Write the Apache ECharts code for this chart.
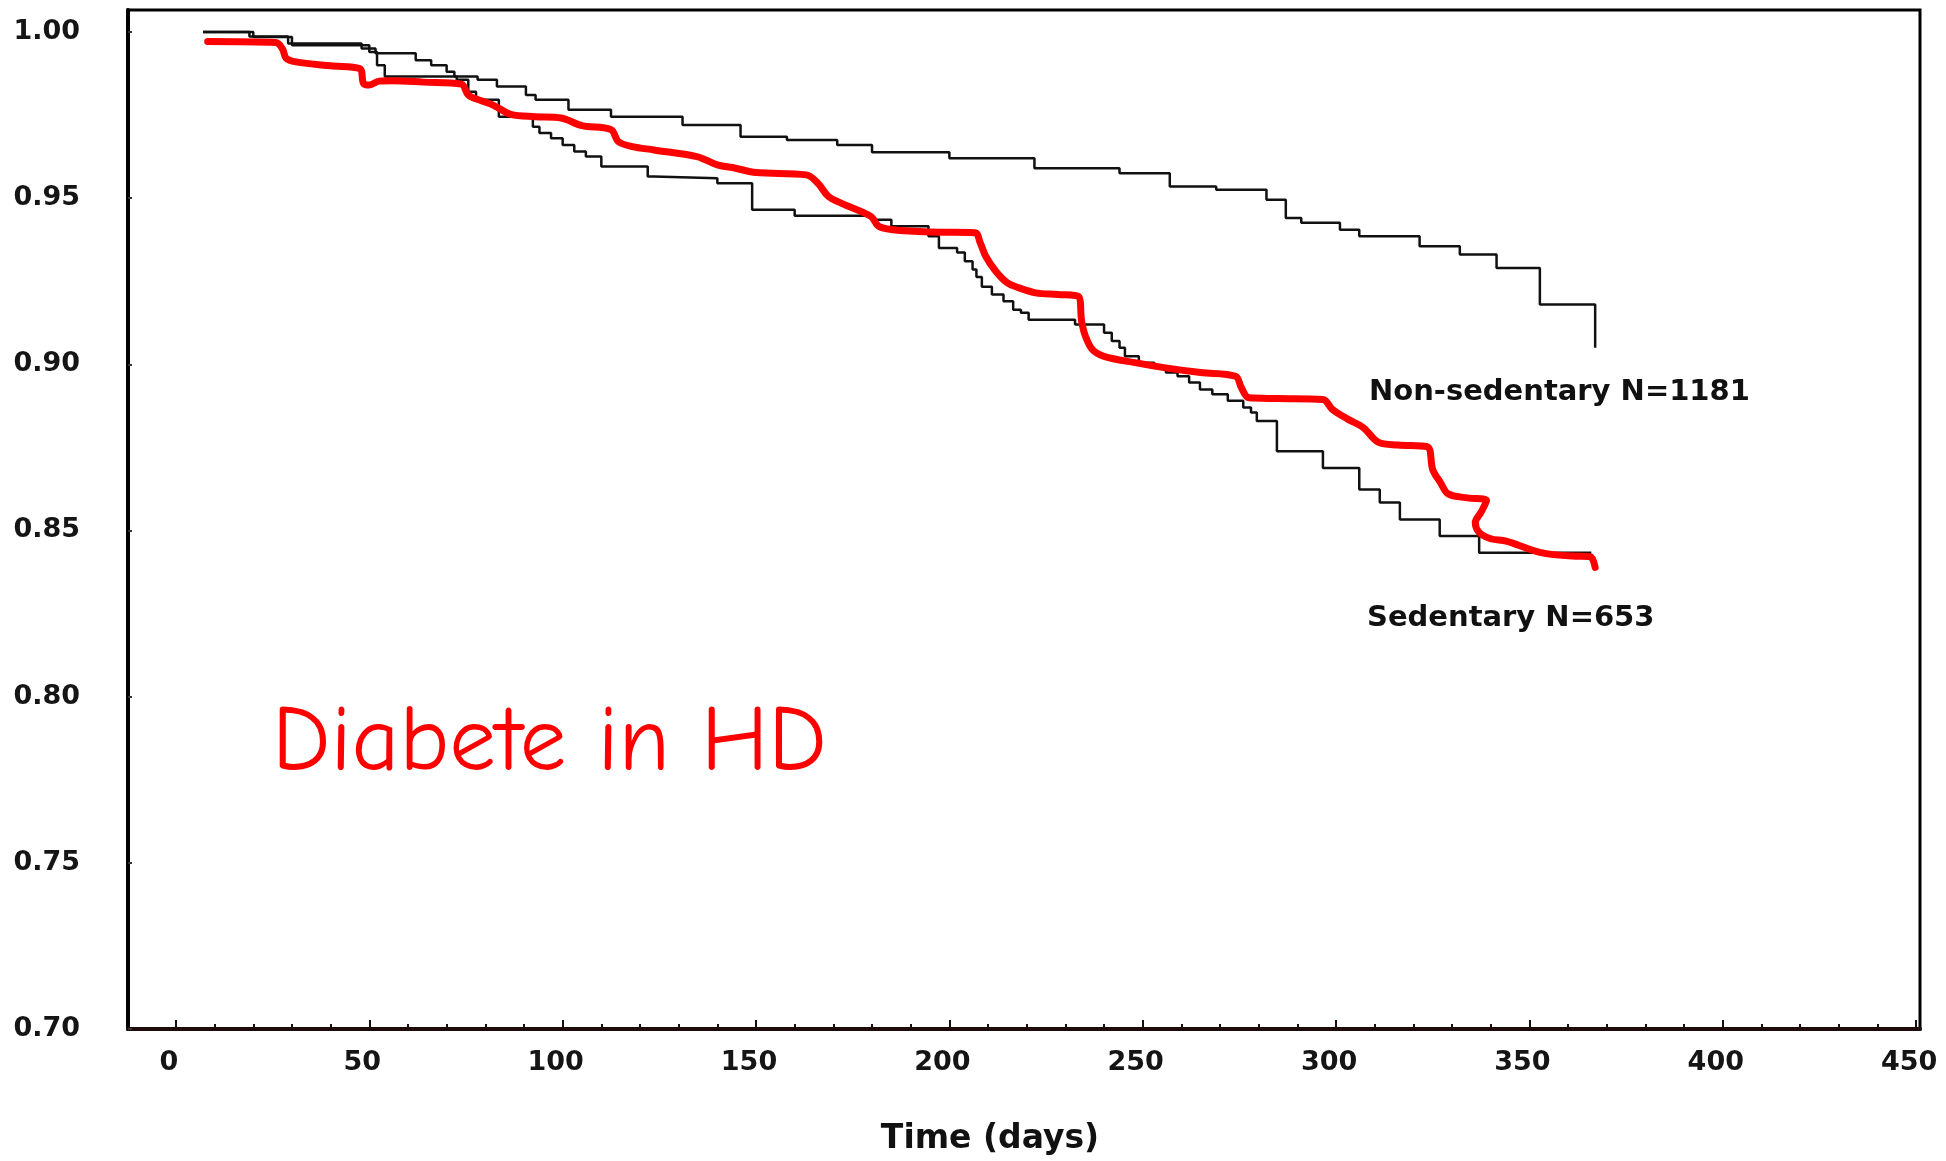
<!DOCTYPE html>
<html>
<head>
<meta charset="utf-8">
<script src="https://cdn.jsdelivr.net/npm/echarts@6/dist/echarts.min.js"></script>
<style>
html,body{margin:0;padding:0;background:#ffffff;}
#chart{width:1946px;height:1161px;}
</style>
</head>
<body>
<div id="chart"></div>
<script>
// ---- tick values ----
const xMajorTicks = [0, 50, 100, 150, 200, 250, 300, 350, 400, 450];
const xMinorTicks = [10, 20, 30, 40, 60, 70, 80, 90, 110, 120, 130, 140, 160, 170, 180, 190, 210, 220, 230, 240, 260, 270, 280, 290, 310, 320, 330, 340, 360, 370, 380, 390, 410, 420, 430, 440];
const yTicks = [0.70, 0.75, 0.80, 0.85, 0.90, 0.95, 1.00];

// ---- Non-sedentary N=1181 (Kaplan-Meier step curve) ----
const nonSedDays = [7, 19, 29, 48, 51.6, 62, 66, 70, 72, 78, 83, 90.5, 93, 101.5, 112.5, 131, 146, 158, 171, 180, 200, 222, 244, 257, 269, 282, 287, 291, 301, 306, 321.6, 332, 341.5, 352.7, 367];
const nonSedSurv = [1.000, 0.9986, 0.9965, 0.995, 0.9936, 0.9915, 0.990, 0.988, 0.9866, 0.9856, 0.9836, 0.981, 0.9796, 0.9766, 0.9745, 0.972, 0.9685, 0.9675, 0.966, 0.9638, 0.962, 0.959, 0.9575, 0.9535, 0.9525, 0.9495, 0.944, 0.9426, 0.9405, 0.9385, 0.9355, 0.933, 0.929, 0.918, 0.905];

// ---- Sedentary N=653 (Kaplan-Meier step curve) ----
const sedDays = [7, 20, 30, 50, 52, 54, 72.6, 75.6, 77.6, 83.5, 92.3, 94, 97, 100, 103, 106, 110, 122, 123.6, 140, 149, 160, 180, 185, 194.6, 197.3, 202, 204, 206, 207, 208.4, 211, 214, 216.5, 218.5, 220.5, 232.5, 240, 242, 244, 245.4, 249, 253, 256, 259, 262, 264.8, 268, 272, 276, 278, 279.5, 284.7, 296.6, 306, 311.3, 316.5, 326.8, 337, 366];
const sedSurv = [1.000, 0.9985, 0.996, 0.994, 0.990, 0.9866, 0.9856, 0.982, 0.9796, 0.9745, 0.9715, 0.9696, 0.968, 0.966, 0.964, 0.9625, 0.9595, 0.9565, 0.956, 0.9545, 0.9465, 0.9447, 0.9435, 0.9415, 0.9385, 0.935, 0.9336, 0.931, 0.9285, 0.9263, 0.9233, 0.921, 0.919, 0.9164, 0.9155, 0.9134, 0.912, 0.9095, 0.907, 0.905, 0.9024, 0.9005, 0.899, 0.8975, 0.8964, 0.8945, 0.8924, 0.891, 0.889, 0.887, 0.8855, 0.8829, 0.8738, 0.8688, 0.8623, 0.8584, 0.8533, 0.8483, 0.8433, 0.8433];

// ---- Diabete in HD (hand-drawn red curve) ----
const redDays = [8.2, 25.8, 27.5, 28.5, 31, 40, 47.5, 48.5, 50, 52.5, 56, 64, 73.8, 75.6, 79, 82, 86.6, 93, 99.6, 105, 112.5, 114.4, 118, 123.6, 134.7, 140, 144.7, 150, 163, 166, 168.7, 172, 179.7, 181.7, 185.4, 195, 206.6, 208, 209.4, 212, 215, 218, 222.3, 228, 233.4, 234.2, 235.2, 237, 240, 248, 255.5, 265, 274, 275.5, 277.5, 285, 296.6, 299, 303, 307, 311, 316, 323.5, 325, 327, 329, 334, 338.9, 337.5, 336, 337, 340, 344, 352.7, 361, 365.6, 367];
const redSurv = [0.9971, 0.9968, 0.995, 0.9921, 0.991, 0.9898, 0.989, 0.9845, 0.984, 0.9852, 0.9853, 0.9849, 0.9843, 0.981, 0.9793, 0.978, 0.9752, 0.9745, 0.9741, 0.9718, 0.9706, 0.967, 0.9655, 0.9645, 0.9625, 0.960, 0.959, 0.9577, 0.957, 0.9545, 0.9505, 0.9485, 0.9445, 0.9415, 0.9405, 0.9398, 0.9396, 0.9365, 0.9325, 0.928, 0.9245, 0.923, 0.9215, 0.921, 0.9204, 0.913, 0.9084, 0.9044, 0.9024, 0.9005, 0.899, 0.8975, 0.8964, 0.893, 0.8899, 0.8897, 0.8894, 0.8865, 0.8835, 0.881, 0.8765, 0.8757, 0.8752, 0.8683, 0.8644, 0.861, 0.8598, 0.859, 0.8555, 0.8524, 0.8494, 0.8475, 0.8468, 0.8434, 0.8423, 0.8422, 0.8389];

// ---- texts ----
const xAxisTitle = 'Time (days)';
const labelNonSed = 'Non-sedentary N=1181';
const labelSed = 'Sedentary N=653';
const labelDiabete = 'Diabete in HD';

const zip = (a, b) => a.map((v, i) => [v, b[i]]);

const chart = echarts.init(document.getElementById('chart'), null, {renderer: 'canvas'});

const tickFont = '"DejaVu Sans", "Liberation Sans", sans-serif';

const option = {
  backgroundColor: '#ffffff',
  animation: false,
  grid: {
    left: 128, right: 26, top: 10, bottom: 131,
    show: true,
    borderColor: '#000000',
    borderWidth: 3,
    backgroundColor: 'transparent'
  },
  xAxis: [
    {
      type: 'value',
      min: -12.4,
      max: 451,
      position: 'bottom',
      splitLine: {show: false},
      axisLine: {show: true, onZero: false, lineStyle: {color: '#1e0c0c', width: 4}},
      axisTick: {show: true, inside: true, length: 9, customValues: xMajorTicks, lineStyle: {color: '#1e0c0c', width: 2}},
      axisLabel: {
        show: true,
        customValues: xMajorTicks,
        margin: 20,
        padding: [0, 14, 0, 0],
        color: '#151515',
        fontFamily: tickFont,
        fontWeight: 'bold',
        fontSize: 27
      },
      name: xAxisTitle,
      nameLocation: 'middle',
      nameGap: 94,
      nameTextStyle: {
        color: '#111111',
        fontFamily: tickFont,
        fontWeight: 'bold',
        fontSize: 33,
        padding: [0, 68, 0, 0]
      }
    },
    {
      type: 'value',
      min: -12.4,
      max: 451,
      position: 'bottom',
      splitLine: {show: false},
      axisLine: {show: false, onZero: false},
      axisTick: {show: true, inside: true, length: 5, customValues: xMinorTicks, lineStyle: {color: '#1e0c0c', width: 2}},
      axisLabel: {show: false}
    }
  ],
  yAxis: {
    type: 'value',
    min: 0.70,
    max: 1.0066,
    position: 'left',
    splitLine: {show: false},
    axisLine: {show: true, onZero: false, lineStyle: {color: '#000000', width: 4}},
    axisTick: {show: true, inside: true, length: 4, customValues: yTicks, lineStyle: {color: '#333333', width: 2}},
    axisLabel: {
      show: true,
      customValues: yTicks,
      formatter: v => v.toFixed(2),
      margin: 48,
      padding: [0, 0, 14, 0],
      color: '#151515',
      fontFamily: tickFont,
      fontWeight: 'bold',
      fontSize: 27
    }
  },
  series: [
    {
      name: labelNonSed,
      type: 'line',
      xAxisIndex: 0,
      step: 'end',
      showSymbol: false,
      data: zip(nonSedDays, nonSedSurv),
      lineStyle: {color: '#111111', width: 2.5},
      z: 3
    },
    {
      name: labelSed,
      type: 'line',
      xAxisIndex: 0,
      step: 'end',
      showSymbol: false,
      data: zip(sedDays, sedSurv),
      lineStyle: {color: '#111111', width: 2.5},
      z: 3
    },
    {
      name: labelDiabete,
      type: 'line',
      xAxisIndex: 0,
      smooth: 0.35,
      showSymbol: false,
      data: zip(redDays, redSurv),
      lineStyle: {color: '#ff0000', width: 7, cap: 'round', join: 'round'},
      z: 4
    }
  ],
  graphic: [
    {
      type: 'text',
      x: 1369, y: 392,
      style: {
        text: labelNonSed,
        font: 'bold 29px "DejaVu Sans", sans-serif',
        fill: '#111111',
        align: 'left',
        verticalAlign: 'middle'
      }
    },
    {
      type: 'text',
      x: 1367, y: 618,
      style: {
        text: labelSed,
        font: 'bold 29px "DejaVu Sans", sans-serif',
        fill: '#111111',
        align: 'left',
        verticalAlign: 'middle'
      }
    },
    {
      type: 'text',
      x: 272, y: 744,
      style: {
        text: labelDiabete,
        font: '93px "Comic Sans MS", "Comic Neue", "Noto Sans", sans-serif',
        fill: '#ff0000',
        align: 'left',
        verticalAlign: 'middle'
      }
    }
  ]
};

chart.setOption(option);
</script>
</body>
</html>
